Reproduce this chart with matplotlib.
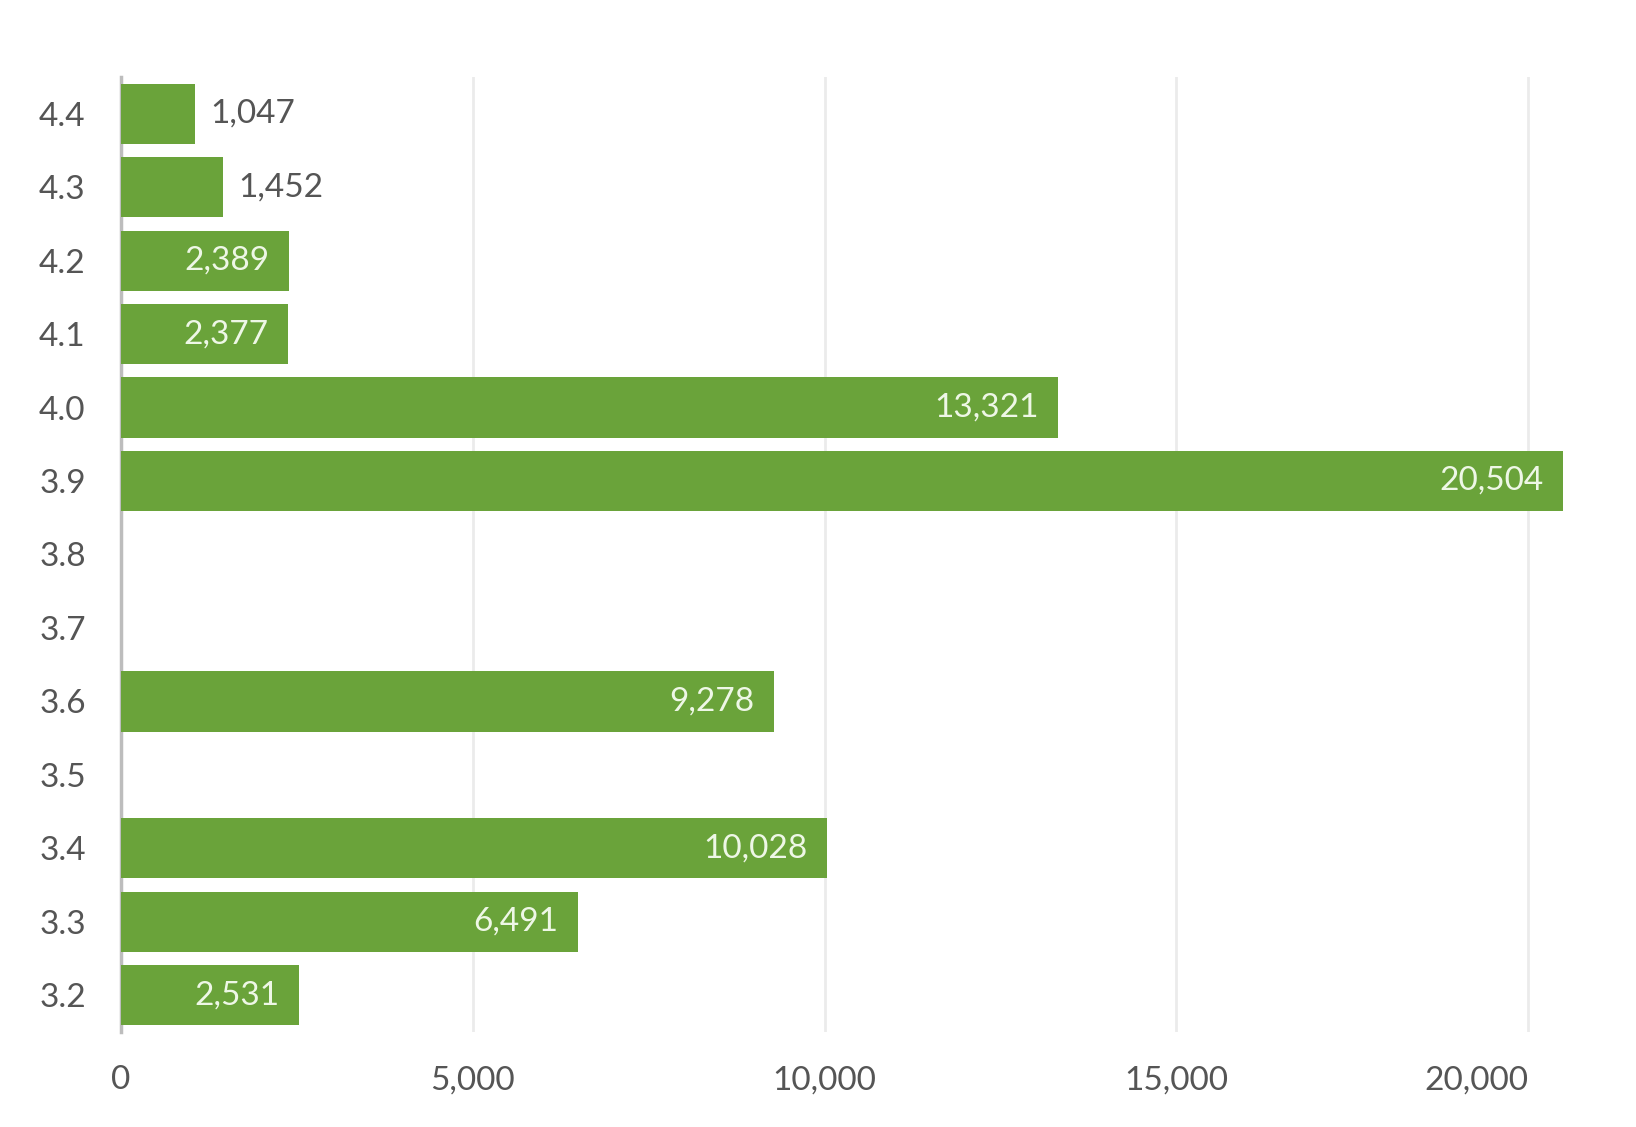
import matplotlib
matplotlib.use("Agg")
import matplotlib.pyplot as plt

categories = ["4.4", "4.3", "4.2", "4.1", "4.0", "3.9", "3.8", "3.7", "3.6", "3.5", "3.4", "3.3", "3.2"]
values = [1047, 1452, 2389, 2377, 13321, 20504, 0, 0, 9278, 0, 10028, 6491, 2531]
xticks = [0, 5000, 10000, 15000, 20000]

plt.rcParams['font.family'] = ['Lato', 'DejaVu Sans']
green = "#6aa33a"
grey = "#555555"

fig = plt.figure(figsize=(16.36, 11.27), dpi=100)
ax = fig.add_axes([0.074, 0.0843, 0.903, 0.8474])

pos = list(range(len(categories)))
ax.barh(pos, values, height=0.82, color=green, zorder=3)
ax.set_ylim(len(categories) - 0.5, -0.5)
ax.set_xlim(0, 21000)

for p, v in zip(pos, values):
    if v <= 0:
        continue
    txt = f"{v:,}"
    if v > 2000:
        ax.annotate(txt, (v, p), xytext=(-14, 0), textcoords="offset points",
                    ha="right", va="center", color="#eef7e6", fontsize=24, zorder=4)
    else:
        ax.annotate(txt, (v, p), xytext=(11, 0), textcoords="offset points",
                    ha="left", va="center", color=grey, fontsize=24, zorder=4)

ax.set_yticks(pos)
ax.set_yticklabels(categories)
ax.set_xticks(xticks)
ax.set_xticklabels([f"{t:,}" for t in xticks])
ax.tick_params(axis='y', length=0, pad=59, labelsize=24, labelcolor=grey)
ax.tick_params(axis='x', length=0, pad=24, labelsize=24, labelcolor=grey)
for lab in ax.get_yticklabels():
    lab.set_horizontalalignment('left')
ax.get_xticklabels()[-1].set_horizontalalignment('right')

ax.grid(axis='x', color="#ebebeb", linewidth=2, zorder=0)
ax.grid(axis='y', visible=False)
for s in ["top", "right", "bottom"]:
    ax.spines[s].set_visible(False)
ax.spines["left"].set_color("#bdbdbd")
ax.spines["left"].set_linewidth(2.5)
ax.spines["left"].set_zorder(2)

fig.savefig("out.png", dpi=100, facecolor="white")
